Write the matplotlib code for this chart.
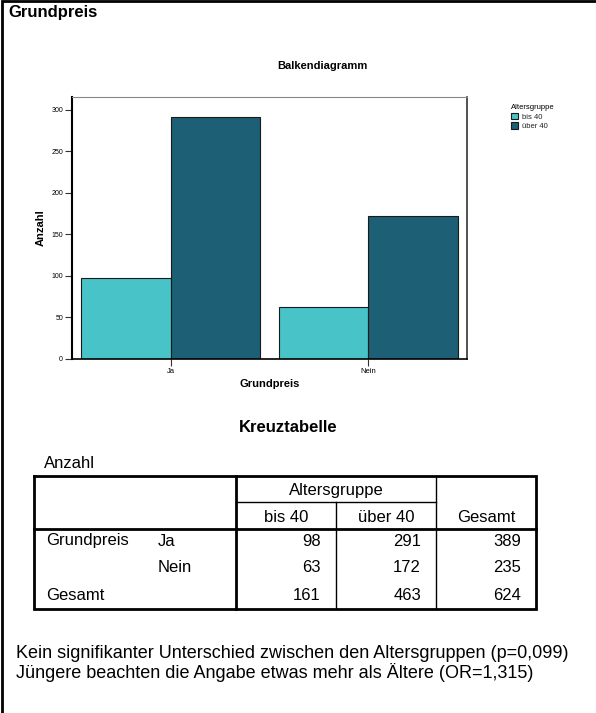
import matplotlib.pyplot as plt
import numpy as np

# Daten
answers = ["Ja", "Nein"]
groups = ["bis 40", "über 40"]
bis40 = [98, 63]
ueber40 = [291, 172]
yticks = [0, 50, 100, 150, 200, 250, 300]
colors = ["#48c4c8", "#1d5f74"]

plt.rcParams['font.family'] = ['Liberation Sans', 'DejaVu Sans']

W, H = 596, 713
fig = plt.figure(figsize=(W / 100, H / 100), dpi=100)

# Seite in Pixelkoordinaten (fuer Rahmen, Tabelle und Texte)
page = fig.add_axes([0, 0, 1, 1])
page.set_xlim(0, W)
page.set_ylim(H, 0)
page.axis("off")

page.plot([1.5, 1.5, W], [H, 1, 1], color="black", lw=2, solid_joinstyle="miter")
page.text(8, 13, "Grundpreis", fontsize=12, fontweight="bold", va="center")
page.text(322, 66, "Balkendiagramm", fontsize=8, fontweight="bold", ha="center", va="center")

# Balkendiagramm
ax = fig.add_axes([72 / W, 1 - 359 / H, 395 / W, 262 / H])
x = np.arange(len(answers))
w = 0.452
b1 = ax.bar(x - w / 2, bis40, w, color=colors[0], edgecolor="#1a1a1a", lw=0.8, label=groups[0])
b2 = ax.bar(x + w / 2, ueber40, w, color=colors[1], edgecolor="#1a1a1a", lw=0.8, label=groups[1])
ax.set_xlim(-0.5, 1.5)
ax.set_ylim(0, 315.5)
ax.set_xticks(x)
ax.set_xticklabels(answers, fontsize=5.5)
ax.set_yticks(yticks)
ax.set_yticklabels([str(t) for t in yticks], fontsize=5)
ax.tick_params(length=5, width=0.8, pad=1.5, color="#333333")
ax.set_xlabel("Grundpreis", fontsize=8, fontweight="bold", labelpad=3)
ax.set_ylabel("Anzahl", fontsize=8, fontweight="bold", labelpad=4)
ax.spines["left"].set_linewidth(1.5)
ax.spines["bottom"].set_linewidth(1.2)
ax.spines["top"].set_color("#888888")
ax.spines["right"].set_color("#333333")
ax.spines["right"].set_linewidth(1.2)

leg = ax.legend(handles=[b1, b2], title="Altersgruppe", loc="upper left",
                bbox_to_anchor=(507 / W, 1 - 100 / H), bbox_transform=fig.transFigure,
                frameon=False, fontsize=5.5, title_fontsize=5.5, handlelength=0.9,
                handleheight=0.9, handletextpad=0.5, labelspacing=0.25,
                borderpad=0, alignment="left")
for t in leg.get_texts():
    t.set_color("#222222")

# Kreuztabelle
page.text(288, 428, "Kreuztabelle", fontsize=12, fontweight="bold", ha="center", va="center")
page.text(44, 463, "Anzahl", fontsize=12, va="center")

L, R, T, B = 34, 536, 476, 609
c1, c2, c3 = 236, 336, 436
hsub, hhead = 502, 529
lw_thick, lw_thin = 2.0, 1.0
page.plot([L, R, R, L, L], [T, T, B, B, T], color="black", lw=lw_thick, solid_joinstyle="miter")
page.plot([c1, c1], [T, B], color="black", lw=lw_thick)
page.plot([L, R], [hhead, hhead], color="black", lw=lw_thick)
page.plot([c1, c3], [hsub, hsub], color="black", lw=lw_thin)
page.plot([c2, c2], [hsub, B], color="black", lw=lw_thin)
page.plot([c3, c3], [T, B], color="black", lw=lw_thin)

fs = 12
page.text((c1 + c3) / 2, 491, "Altersgruppe", fontsize=fs, ha="center", va="center")
page.text((c1 + c2) / 2, 518, groups[0], fontsize=fs, ha="center", va="center")
page.text((c2 + c3) / 2, 518, groups[1], fontsize=fs, ha="center", va="center")
page.text((c3 + R) / 2, 518, "Gesamt", fontsize=fs, ha="center", va="center")

row_tot = [a + b for a, b in zip(bis40, ueber40)]
rows = [(answers[0], bis40[0], ueber40[0], row_tot[0]),
        (answers[1], bis40[1], ueber40[1], row_tot[1]),
        ("", sum(bis40), sum(ueber40), sum(row_tot))]
row_y = [541, 568, 595]
page.text(46, row_y[0], "Grundpreis", fontsize=fs, va="center")
page.text(46, row_y[2], "Gesamt", fontsize=fs, va="center")
for yy, (lab, v1, v2, v3) in zip(row_y, rows):
    page.text(158, yy, lab, fontsize=fs, va="center")
    page.text(c2 - 15, yy, str(v1), fontsize=fs, ha="right", va="center")
    page.text(c3 - 15, yy, str(v2), fontsize=fs, ha="right", va="center")
    page.text(R - 15, yy, str(v3), fontsize=fs, ha="right", va="center")

page.text(16, 654, "Kein signifikanter Unterschied zwischen den Altersgruppen (p=0,099)",
          fontsize=13, va="center")
page.text(16, 672, "Jüngere beachten die Angabe etwas mehr als Ältere (OR=1,315)",
          fontsize=13, va="center")

fig.savefig("out.png", dpi=100)
